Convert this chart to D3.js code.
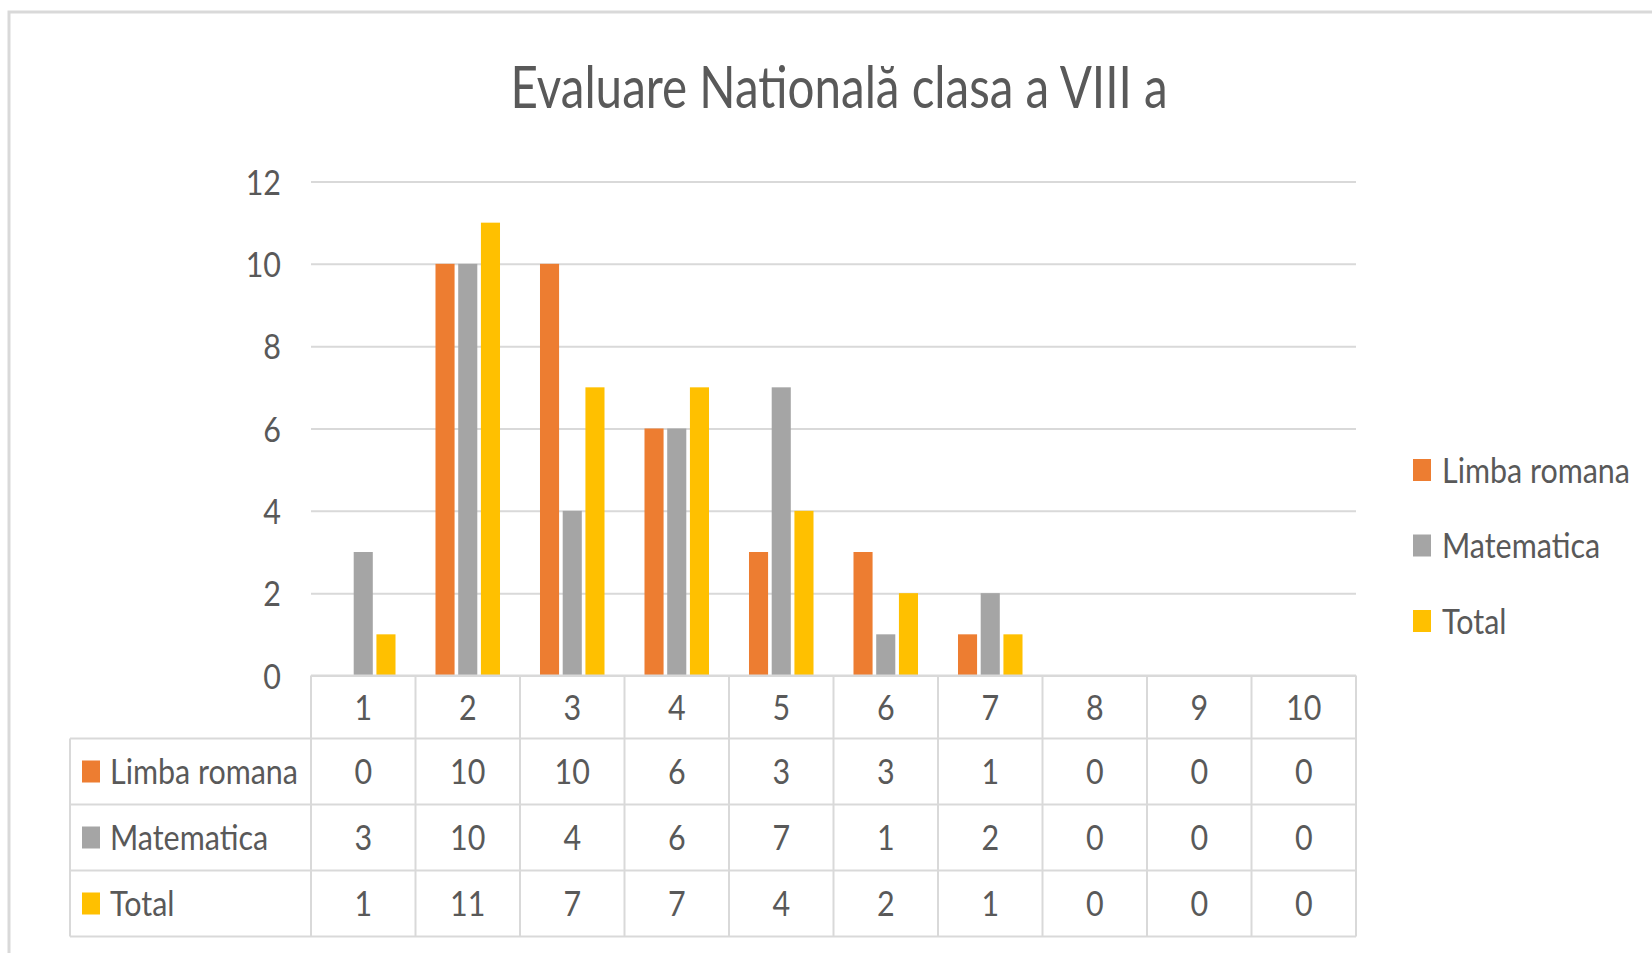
<!DOCTYPE html>
<html>
<head>
<meta charset="utf-8">
<script src="https://cdn.jsdelivr.net/npm/d3@7"></script>
<style>
  body { margin: 0; background: #fff; }
  text { font-family: Lato, 'Open Sans', sans-serif; fill: #595959; }
</style>
</head>
<body>
<script>
const width = 1652;
const height = 953;

const title = 'Evaluare Natională clasa a VIII a';
const categories = ['1', '2', '3', '4', '5', '6', '7', '8', '9', '10'];
const seriesNames = ['Limba romana', 'Matematica', 'Total'];
const seriesColors = ['#ED7D31', '#A5A5A5', '#FFC000'];
const limbaRomana = [0, 10, 10, 6, 3, 3, 1, 0, 0, 0];
const matematica = [3, 10, 4, 6, 7, 1, 2, 0, 0, 0];
const total = [1, 11, 7, 7, 4, 2, 1, 0, 0, 0];
const yTicks = [0, 2, 4, 6, 8, 10, 12];

const seriesValues = [limbaRomana, matematica, total];

// the picture is stretched vertically, so text is squeezed sideways
const sx = 0.87;
const titleSx = 0.82;
const fontSize = 35;
const gridColor = '#d9d9d9';

const plot = { left: 311, right: 1356, top: 181.5, bottom: 675.5 };
const table = { left: 70, headerH: 63, rowH: 66 };

const svg = d3.select('body')
  .append('svg')
    .attr('width', width)
    .attr('height', height);

const squeezed = (sel, x, y, k = sx) => sel.attr('transform', `translate(${x},${y}) scale(${k},1)`);

// chart frame
svg.append('rect')
  .attr('x', 9)
  .attr('y', 12)
  .attr('width', width + 20)
  .attr('height', height + 20)
  .attr('fill', '#fff')
  .attr('stroke', gridColor)
  .attr('stroke-width', 3);

const x = d3.scaleBand()
  .domain(categories)
  .range([plot.left, plot.right]);

const xs = d3.scaleBand()
  .domain(seriesNames)
  .range([0, x.bandwidth()])
  .paddingInner(0.16)
  .paddingOuter(0.88);

const y = d3.scaleLinear()
  .domain([0, 12])
  .range([plot.bottom, plot.top]);

// title
svg.append('text')
  .call(squeezed, 839, 108, titleSx)
  .attr('text-anchor', 'middle')
  .attr('font-size', 58)
  .text(title);

// gridlines and y labels
const yAxis = svg.append('g')
  .attr('transform', `translate(${plot.left},0)`)
  .call(d3.axisLeft(y).tickValues(yTicks).tickSize(-(plot.right - plot.left)).tickPadding(0));

yAxis.select('.domain').remove();
yAxis.selectAll('.tick line')
  .attr('stroke', gridColor)
  .attr('stroke-width', 2);
yAxis.selectAll('.tick text')
  .attr('x', null)
  .attr('dy', null)
  .attr('fill', null)
  .attr('font-family', null)
  .attr('font-size', fontSize)
  .attr('text-anchor', 'end')
  .call(squeezed, -30, 12.5);

// bars
const groups = svg.append('g')
  .selectAll('g')
  .data(seriesNames)
  .join('g')
    .attr('fill', (d, i) => seriesColors[i]);

groups.selectAll('rect')
  .data((name, i) => categories.map((c, j) => ({ name, c, v: seriesValues[i][j] })))
  .join('rect')
    .attr('x', (d) => x(d.c) + xs(d.name))
    .attr('y', (d) => y(d.v))
    .attr('width', xs.bandwidth())
    .attr('height', (d) => y(0) - y(d.v));

// data table
const tableTop = plot.bottom;
const rowsTop = tableTop + table.headerH;
const tableBottom = rowsTop + seriesNames.length * table.rowH;
const rowY = (i) => rowsTop + i * table.rowH;

const grid = svg.append('g')
  .attr('stroke', gridColor)
  .attr('stroke-width', 2);

grid.append('line')
  .attr('x1', plot.left).attr('x2', plot.right)
  .attr('y1', tableTop).attr('y2', tableTop);

grid.selectAll('line.row')
  .data(d3.range(seriesNames.length + 1))
  .join('line')
    .attr('class', 'row')
    .attr('x1', table.left).attr('x2', plot.right)
    .attr('y1', rowY).attr('y2', rowY);

grid.append('line')
  .attr('x1', table.left).attr('x2', table.left)
  .attr('y1', rowsTop).attr('y2', tableBottom);

grid.selectAll('line.col')
  .data([plot.left].concat(categories.map((c) => x(c) + x.bandwidth())))
  .join('line')
    .attr('class', 'col')
    .attr('x1', (d) => d).attr('x2', (d) => d)
    .attr('y1', tableTop).attr('y2', tableBottom);

// header row
svg.append('g')
  .selectAll('text')
  .data(categories)
  .join('text')
    .attr('text-anchor', 'middle')
    .attr('font-size', fontSize)
    .each(function (c) {
      d3.select(this).call(squeezed, x(c) + x.bandwidth() / 2, tableTop + table.headerH / 2 + 12.5);
    })
    .text((c) => c);

// value rows
seriesNames.forEach((name, i) => {
  const cy = rowY(i) + table.rowH / 2;
  const row = svg.append('g');

  row.append('rect')
    .attr('x', 82)
    .attr('y', cy - 11)
    .attr('width', 18)
    .attr('height', 22)
    .attr('fill', seriesColors[i]);

  row.append('text')
    .attr('font-size', fontSize)
    .call(squeezed, 110, cy + 12.5)
    .text(name);

  row.selectAll('text.value')
    .data(seriesValues[i])
    .join('text')
      .attr('class', 'value')
      .attr('text-anchor', 'middle')
      .attr('font-size', fontSize)
      .each(function (v, j) {
        d3.select(this).call(squeezed, x(categories[j]) + x.bandwidth() / 2, cy + 12.5);
      })
      .text((v) => v);
});

// legend
const legend = svg.append('g')
  .selectAll('g')
  .data(seriesNames)
  .join('g')
    .attr('transform', (d, i) => `translate(1413,${470 + i * 75.5})`);

legend.append('rect')
  .attr('y', -11)
  .attr('width', 18)
  .attr('height', 22)
  .attr('fill', (d, i) => seriesColors[i]);

legend.append('text')
  .attr('font-size', fontSize)
  .call(squeezed, 29, 12.5)
  .text((d) => d);
</script>
</body>
</html>
